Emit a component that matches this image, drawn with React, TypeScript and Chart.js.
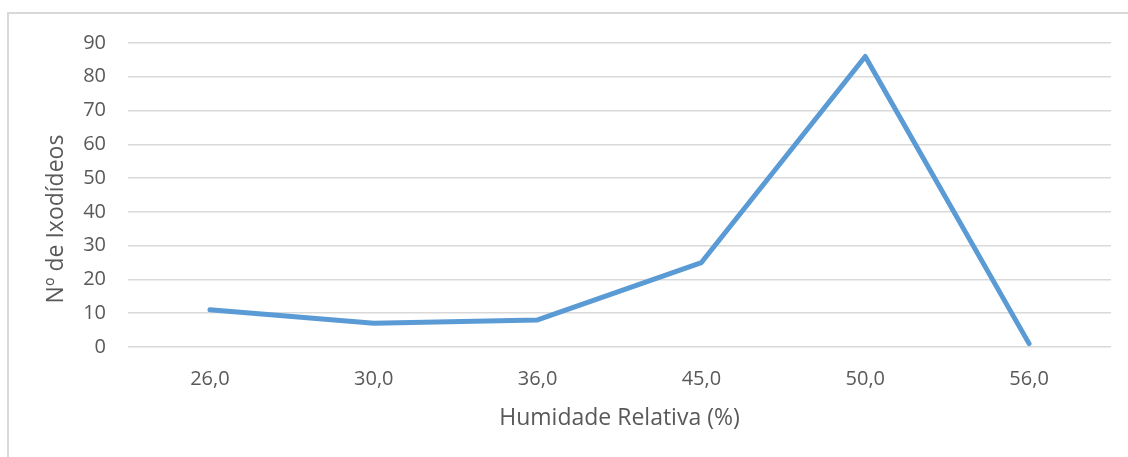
import React, { useEffect, useRef } from "react";
import { Chart, registerables } from "chart.js";

Chart.register(...registerables);

const categories: string[] = ["26,0", "30,0", "36,0", "45,0", "50,0", "56,0"];
const ixodideos: number[] = [11, 7, 8, 25, 86, 1];
const yMin = 0;
const yMax = 90;
const yStep = 10;
const xTitle = "Humidade Relativa (%)";
const yTitle = "Nº de Ixodídeos";

const FONT = "'Open Sans', sans-serif";
const TEXT = "#595959";
const GRID = "#d9d9d9";
const LINE = "#5b9bd5";

const yTitlePlugin = {
  id: "yTitlePlugin",
  afterDraw(chart: any) {
    const { ctx, chartArea } = chart;
    ctx.save();
    ctx.font = `23px ${FONT}`;
    ctx.fillStyle = TEXT;
    ctx.textAlign = "center";
    ctx.textBaseline = "middle";
    const cy = (chartArea.top + chartArea.bottom) / 2 + 24;
    ctx.translate(56, cy);
    ctx.rotate(-Math.PI / 2);
    ctx.fillText(yTitle, 0, 0);
    ctx.restore();
  },
};

export default function App() {
  const ref = useRef<HTMLCanvasElement | null>(null);

  useEffect(() => {
    if (!ref.current) return;
    const chart = new Chart(ref.current, {
      type: "line",
      data: {
        labels: categories,
        datasets: [
          {
            data: ixodideos,
            borderColor: LINE,
            backgroundColor: LINE,
            borderWidth: 5,
            borderCapStyle: "round",
            borderJoinStyle: "round",
            pointRadius: 0,
            pointHoverRadius: 0,
            tension: 0,
            fill: false,
          },
        ],
      },
      options: {
        responsive: false,
        animation: false,
        devicePixelRatio: 1,
        layout: { padding: { top: 43, right: 17, left: 0, bottom: 0 } },
        plugins: {
          legend: { display: false },
          tooltip: { enabled: false },
          title: { display: false },
        },
        scales: {
          x: {
            offset: true,
            grid: { display: false, drawTicks: false },
            border: { display: false },
            ticks: {
              color: TEXT,
              font: { family: FONT, size: 20 },
              padding: 20,
              maxRotation: 0,
            },
            title: {
              display: true,
              text: xTitle,
              color: TEXT,
              font: { family: FONT, size: 23 },
              padding: { top: 0, bottom: 25 },
            },
            afterFit: (scale: any) => {
              scale.height = 110;
            },
          },
          y: {
            min: yMin,
            max: yMax,
            ticks: {
              stepSize: yStep,
              color: TEXT,
              font: { family: FONT, size: 20 },
              padding: 22,
            },
            grid: { color: GRID, lineWidth: 1.5, drawTicks: false },
            border: { display: false },
            afterFit: (scale: any) => {
              scale.width = 128;
            },
          },
        },
      },
      plugins: [yTitlePlugin],
    });
    return () => chart.destroy();
  }, []);

  return (
    <div
      style={{
        position: "absolute",
        left: 0,
        top: 0,
        width: 1128,
        height: 457,
        overflow: "hidden",
        background: "#fff",
      }}
    >
      <div
        style={{
          position: "absolute",
          left: 7,
          top: 12,
          width: 1200,
          height: 600,
          border: `2px solid ${GRID}`,
          boxSizing: "border-box",
        }}
      />
      <canvas
        ref={ref}
        width={1128}
        height={457}
        style={{ position: "absolute", left: 0, top: 0, width: 1128, height: 457 }}
      />
    </div>
  );
}
